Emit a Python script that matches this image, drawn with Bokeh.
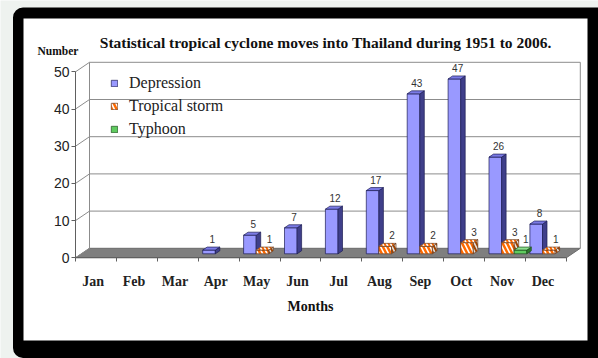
from bokeh.plotting import figure
from bokeh.models import Range1d, FixedTicker, BoxAnnotation, Legend, LegendItem
from bokeh.core.properties import value
from bokeh.embed import file_html
from bokeh.resources import INLINE

# ---------------- data ----------------
months = ["Jan", "Feb", "Mar", "Apr", "May", "Jun", "Jul", "Aug", "Sep", "Oct", "Nov", "Dec"]
depression = [0, 0, 0, 1, 5, 7, 12, 17, 43, 47, 26, 8]
tropical_storm = [0, 0, 0, 0, 1, 0, 0, 2, 2, 3, 3, 1]
typhoon = [0, 0, 0, 0, 0, 0, 0, 0, 0, 0, 1, 0]
series_names = ["Depression", "Tropical storm", "Typhoon"]
y_ticks = [0, 10, 20, 30, 40, 50]
title_text = "Statistical tropical cyclone moves into Thailand during 1951 to 2006."

# ---------------- layout / scale ----------------
W, H = 598, 358
X0PX = 75.0      # pixel of left category boundary
CATPX = 40.9     # pixels per category
Y0PX = 257.3     # pixel of value 0
UNITPX = 3.72    # pixels per unit


def xd(px):
    return -0.5 + (px - X0PX) / CATPX


def yd(py):
    return (Y0PX - py) / UNITPX


WALL_DX = 14.0 / CATPX
WALL_DY = 9.5 / UNITPX
BAR_X0 = 4.5 / CATPX
BAR_W = 12.6 / CATPX
BAR_Y0 = 4.0 / UNITPX
SIDE_DX = 4.5 / CATPX
SIDE_DY = 3.0 / UNITPX
LABEL_GAP = 4.0 / UNITPX
NCAT = len(months)
XL, XR = -0.5, NCAT - 0.5

SERIF = "Liberation Serif"
SANS = "Liberation Sans"

p = figure(width=W, height=H, x_range=Range1d(xd(0), xd(W)), y_range=Range1d(yd(H), yd(0)),
           output_backend="svg", toolbar_location=None, min_border=0, title=None)
p.background_fill_color = "#eef2ef"
p.border_fill_color = "#eef2ef"
p.outline_line_color = None
p.xgrid.visible = False
p.ygrid.visible = False

# frame decorations
p.add_layout(BoxAnnotation(left=xd(12.5), right=xd(640), top=yd(7), bottom=yd(357.5),
                           fill_color="black", fill_alpha=1, line_color=None,
                           border_radius=10, level="underlay"))
p.add_layout(BoxAnnotation(left=xd(23), right=xd(587), top=yd(18), bottom=yd(340),
                           fill_color="white", fill_alpha=1, line_color=None, level="underlay"))

# ---------------- 3D box: floor and walls ----------------
ymax = y_ticks[-1]
p.patch([XL, XR, XR + WALL_DX, XL + WALL_DX], [0, 0, WALL_DY, WALL_DY],
        fill_color="#7f7f7f", line_color="#6a6a6a", line_width=1)
grid_col = "#8c8c8c"
p.segment(x0=[XL + WALL_DX] * (len(y_ticks) - 1), y0=[v + WALL_DY for v in y_ticks[1:]],
          x1=[XR + WALL_DX] * (len(y_ticks) - 1), y1=[v + WALL_DY for v in y_ticks[1:]],
          line_color=grid_col, line_width=1)
p.segment(x0=[XL] * len(y_ticks), y0=y_ticks,
          x1=[XL + WALL_DX] * len(y_ticks), y1=[v + WALL_DY for v in y_ticks],
          line_color=grid_col, line_width=1)
p.segment(x0=[XL + WALL_DX, XR + WALL_DX], y0=[WALL_DY, WALL_DY],
          x1=[XL + WALL_DX, XR + WALL_DX], y1=[ymax + WALL_DY, ymax + WALL_DY],
          line_color=grid_col, line_width=1)

# ---------------- bars ----------------
styles = [
    dict(front=dict(fill_color="#9999ff"), side=dict(fill_color="#3f3f8a"), top=dict(fill_color="#7b7be6"),
         line="#1c1c55"),
    dict(front=dict(fill_color="white", hatch_pattern="\\", hatch_color="#ff6a00", hatch_weight=2.5, hatch_scale=9),
         side=dict(fill_color="#e0e0e0", hatch_pattern="\\", hatch_color="#a04400", hatch_weight=2, hatch_scale=8),
         top=dict(fill_color="white", hatch_pattern="\\", hatch_color="#ff6a00", hatch_weight=2, hatch_scale=8),
         line="#6b3a1a"),
    dict(front=dict(fill_color="#5fcb5f"), side=dict(fill_color="#2c7a2c"), top=dict(fill_color="#8fe08f"),
         line="#1d4d1d"),
]
label_off = [0.08, 0.17, 0.13]
series = [depression, tropical_storm, typhoon]
lab_x, lab_y, lab_t = [], [], []
legend_items = []
for k, vals in enumerate(series):
    st = styles[k]
    idx = [i for i, v in enumerate(vals) if v > 0]
    left = [i - 0.5 + BAR_X0 + k * BAR_W for i in idx]
    right = [l + BAR_W for l in left]
    top = [BAR_Y0 + vals[i] for i in idx]
    r_front = p.quad(left=left, right=right, bottom=[BAR_Y0] * len(idx), top=top,
                     line_color=st["line"], line_width=0.7, **st["front"])
    side_xs = [[r, r + SIDE_DX, r + SIDE_DX, r] for r in right]
    side_ys = [[BAR_Y0, BAR_Y0 + SIDE_DY, t + SIDE_DY, t] for t in top]
    p.patches(side_xs, side_ys, line_color=st["line"], line_width=0.7, **st["side"])
    top_xs = [[l, r, r + SIDE_DX, l + SIDE_DX] for l, r in zip(left, right)]
    top_ys = [[t, t, t + SIDE_DY, t + SIDE_DY] for t in top]
    p.patches(top_xs, top_ys, line_color=st["line"], line_width=0.7, **st["top"])
    for l, t, i in zip(left, top, idx):
        lab_x.append(l + BAR_W / 2 + label_off[k])
        lab_y.append(t + SIDE_DY + LABEL_GAP)
        lab_t.append(str(vals[i]))
    legend_items.append(LegendItem(label=series_names[k], renderers=[r_front]))

p.text(x=lab_x, y=lab_y, text=lab_t, text_font=value(SANS), text_font_size="10px",
       text_color="#333333", text_align="center", text_baseline="bottom")

# ---------------- axes ----------------
centers = [i - 0.07 for i in range(NCAT)]
xa = p.xaxis[0]
xa.fixed_location = 0
xa.bounds = (XL, XR)
xa.ticker = FixedTicker(ticks=centers, minor_ticks=[i - 0.5 for i in range(NCAT + 1)])
xa.major_label_overrides = {c: m for c, m in zip(centers, months)}
xa.major_tick_out = 0
xa.major_tick_in = 0
xa.minor_tick_out = 4
xa.minor_tick_in = 0
xa.axis_line_color = "#606060"
xa.minor_tick_line_color = "#606060"
xa.major_label_standoff = 12
xa.major_label_text_font = SERIF
xa.major_label_text_font_style = "bold"
xa.major_label_text_font_size = "14px"
xa.major_label_text_color = "#222222"

ya = p.yaxis[0]
ya.fixed_location = XL
ya.bounds = (0, ymax)
ya.ticker = FixedTicker(ticks=y_ticks)
ya.major_tick_out = 4
ya.major_tick_in = 0
ya.minor_tick_out = 0
ya.minor_tick_in = 0
ya.axis_line_color = "#606060"
ya.major_tick_line_color = "#606060"
ya.major_label_standoff = 2
ya.major_label_text_font = SANS
ya.major_label_text_font_size = "14px"
ya.major_label_text_color = "#222222"

# ---------------- texts ----------------
p.text(x=[xd(99.3)], y=[yd(42.3)], text=[title_text], text_font=value(SERIF), text_font_style="bold",
       text_font_size="15.5px", text_color="#111111", text_align="left", text_baseline="middle")
p.text(x=[xd(57.5)], y=[yd(50)], text=["Number"], text_font=value(SERIF), text_font_style="bold",
       text_font_size="11.5px", text_color="#111111", text_align="center", text_baseline="middle")
p.text(x=[xd(310)], y=[yd(306)], text=["Months"], text_font=value(SERIF), text_font_style="bold",
       text_font_size="14px", text_color="#111111", text_align="center", text_baseline="middle")

legend = Legend(items=legend_items, location=(110, H - 139), border_line_color=None,
                background_fill_alpha=0, padding=0, margin=0, spacing=3,
                glyph_width=8, glyph_height=8, label_height=20, label_standoff=11,
                label_text_font=SERIF, label_text_font_size="16px", label_text_color="#222222")
p.add_layout(legend)

open("out.html", "w").write(file_html(p, INLINE))
